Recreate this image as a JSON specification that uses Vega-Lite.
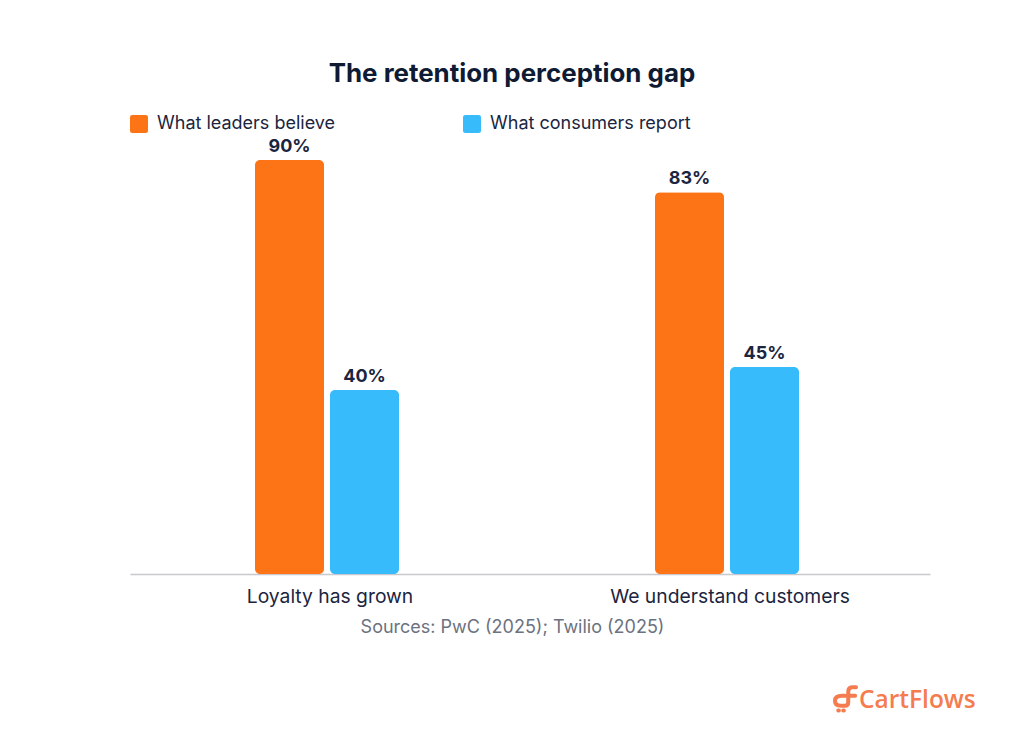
{"$schema":"https://vega.github.io/schema/vega-lite/v6.json","width":800,"height":460,"autosize":"none","padding":{"left":130,"top":114,"right":94,"bottom":163},"background":"white","view":{"stroke":null},"title":{"text":"The retention perception gap","font":"Inter","fontSize":25.9,"fontWeight":700,"color":"#0f1a33","anchor":"middle","offset":26,"dx":-18},"datasets":{"bars":[{"claim":"Loyalty has grown","group":"What leaders believe","value":0.9},{"claim":"Loyalty has grown","group":"What consumers report","value":0.4},{"claim":"We understand customers","group":"What leaders believe","value":0.83},{"claim":"We understand customers","group":"What consumers report","value":0.45}],"logo":[{"brand":"CartFlows"}]},"layer":[{"data":{"name":"bars"},"mark":{"type":"bar","cornerRadius":5,"clip":false},"encoding":{"x":{"field":"claim","type":"nominal","sort":null,"scale":{"paddingInner":0.625,"paddingOuter":0.3125},"axis":{"title":"Sources: PwC (2025); Twilio (2025)","titleFont":"Inter","titleFontSize":18,"titleFontWeight":400,"titleColor":"#6b7280","titlePadding":12,"titleX":382,"titleAnchor":"middle","labelAngle":0,"labelFont":"Inter","labelFontSize":19.3,"labelColor":"#1b2540","labelPadding":13,"ticks":false,"domainColor":"#c8c8cf","domainWidth":1.5,"labelLimit":400,"grid":false}},"xOffset":{"field":"group","type":"nominal","sort":["What leaders believe","What consumers report"],"scale":{"paddingInner":0.08,"paddingOuter":0.04,"align":0}},"y":{"field":"value","type":"quantitative","scale":{"domain":[0,1]},"axis":null},"color":{"field":"group","type":"nominal","sort":["What leaders believe","What consumers report"],"scale":{"domain":["What leaders believe","What consumers report"],"range":["#fc7416","#38bbfa"]},"legend":{"title":null,"orient":"none","legendX":0,"legendY":1,"direction":"horizontal","columns":2,"symbolType":"M-1,-0.75Q-1,-1,-0.75,-1H0.75Q1,-1,1,-0.75V0.75Q1,1,0.75,1H-0.75Q-1,1,-1,0.75Z","symbolSize":324,"symbolStrokeWidth":0,"symbolOpacity":1,"labelFont":"Inter","labelFontSize":18,"labelColor":"#1b2540","labelOffset":9,"columnPadding":127,"labelLimit":300,"padding":0}}}},{"data":{"name":"bars"},"mark":{"type":"text","baseline":"bottom","dy":-4,"font":"Inter","fontSize":18,"fontWeight":700,"color":"#1b2540"},"encoding":{"x":{"field":"claim","type":"nominal","sort":null},"xOffset":{"field":"group","type":"nominal","sort":["What leaders believe","What consumers report"]},"y":{"field":"value","type":"quantitative"},"text":{"field":"value","type":"quantitative","format":".0%"}}},{"data":{"name":"logo"},"mark":{"type":"text","font":"Open Sans","fontSize":24.5,"fontWeight":600,"color":"#f47c4f","align":"left","baseline":"middle","dx":129,"clip":false},"encoding":{"x":{"datum":"We understand customers"},"y":{"datum":-0.275},"text":{"field":"brand"}}},{"data":{"name":"logo"},"mark":{"type":"point","filled":false,"opacity":1,"clip":false,"shape":"M0.04,-0.2H-0.2Q-0.76,-0.2,-0.76,0.2Q-0.76,0.6,-0.3,0.6H0.04M0.92,-0.88H0.6Q0.3,-0.88,0.3,-0.5V0.3Q0.3,0.6,0.04,0.6M0.3,-0.2H0.85M-0.5,0.98H-0.45M-0.1,0.98H-0.05","size":625,"stroke":"#f47c4f","strokeWidth":4,"strokeCap":"round","xOffset":114.5},"encoding":{"x":{"datum":"We understand customers"},"y":{"datum":-0.27}}}]}
